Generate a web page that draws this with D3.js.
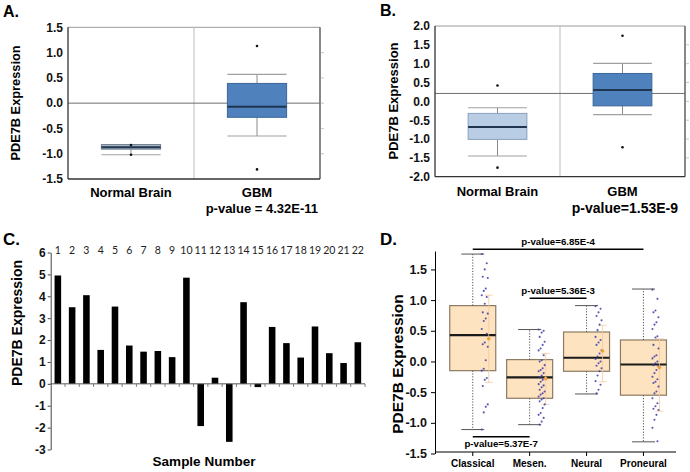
<!DOCTYPE html>
<html>
<head>
<meta charset="utf-8">
<script src="https://cdn.jsdelivr.net/npm/d3@7"></script>
<style>
body { margin: 0; background: #fff; }
text { font-family: "Liberation Sans", Arial, sans-serif; }
.tick text { font-weight: bold; fill: #111; }
</style>
</head>
<body>
<div id="chart"></div>
<script>
// ---- data ----
var groupsAB = ["Normal Brain", "GBM"];
var statsA = [
    {lo: -1.02, q1: -0.91, med: -0.87, q3: -0.82, hi: -0.82},
    {lo: -0.65, q1: -0.28, med: -0.07, q3: 0.39, hi: 0.57}
];
var outliersA = [[-0.83, -1.02], [1.13, -1.31]];
var ticksA = [-1.5, -1.0, -0.5, 0.0, 0.5, 1.0, 1.5];
var refA = 0.0;
var pLabelA = "p-value = 4.32E-11";

var statsB = [
    {lo: -1.45, q1: -1.01, med: -0.68, q3: -0.32, hi: -0.17},
    {lo: -0.35, q1: -0.12, med: 0.30, q3: 0.74, hi: 1.01}
];
var outliersB = [[0.42, -1.76], [1.74, -1.22]];
var ticksB = [-2.0, -1.5, -1.0, -0.5, 0.0, 0.5, 1.0, 1.5, 2.0];
var refB = 0.21;
var pLabelB = "p-value=1.53E-9";

var samplesC = d3.range(1, 23);
var valuesC = [4.95, 3.5, 4.05, 1.55, 3.53, 1.75, 1.47, 1.5, 1.22, 4.85, -1.93,
               0.28, -2.65, 3.73, -0.15, 2.6, 1.86, 1.2, 2.62, 1.4, 0.95, 1.9];
var ticksC = [-3, -2, -1, 0, 1, 2, 3, 4, 5, 6];

var subtypesD = ["Classical", "Mesen.", "Neural", "Proneural"];
var statsD = [
    {lo: -1.11, q1: -0.15, med: 0.43, q3: 0.91, hi: 1.75, mean: 0.37, sdLo: -0.34, sdHi: 1.08},
    {lo: -1.03, q1: -0.60, med: -0.26, q3: 0.03, hi: 0.52, mean: -0.28, sdLo: -0.70, sdHi: 0.13},
    {lo: -0.53, q1: -0.16, med: 0.06, q3: 0.48, hi: 0.91, mean: 0.17, sdLo: -0.33, sdHi: 0.59},
    {lo: -1.31, q1: -0.55, med: -0.05, q3: 0.35, hi: 1.18, mean: -0.10, sdLo: -0.81, sdHi: 0.37}
];
var pointsClassical = [1.75, 1.60, 1.50, 1.38, 1.36, 1.19, 1.15, 1.08, 1.05, 0.94, 0.80, 0.78,
                       0.70, 0.66, 0.53, 0.45, 0.31, 0.28, 0.24, 0.02, -0.12, -0.15, -0.27,
                       -0.30, -0.40, -0.70, -0.74, -0.83, -1.11];
var pointsMesen = [0.52, 0.50, 0.47, 0.40, 0.32, 0.27, 0.21, 0.18, 0.10, 0.02, 0.00, -0.06,
                   -0.11, -0.14, -0.16, -0.19, -0.23, -0.26, -0.27, -0.30, -0.33, -0.37,
                   -0.39, -0.42, -0.46, -0.49, -0.52, -0.54, -0.57, -0.60, -0.62, -0.65,
                   -0.70, -0.76, -0.84, -0.87, -0.92, -0.98, -1.03];
var pointsNeural = [0.90, 0.86, 0.80, 0.74, 0.67, 0.60, 0.51, 0.40, 0.35, 0.31, 0.27, 0.18,
                    0.13, 0.08, 0.04, 0.00, -0.03, -0.07, -0.11, -0.16, -0.23, -0.32, -0.38,
                    -0.46, -0.52];
var pointsProneural = [1.17, 1.02, 0.83, 0.80, 0.72, 0.64, 0.60, 0.53, 0.41, 0.39, 0.27, 0.21,
                       0.10, 0.08, 0.05, 0.00, -0.03, -0.06, -0.08, -0.14, -0.19, -0.25, -0.29,
                       -0.33, -0.35, -0.41, -0.49, -0.52, -0.60, -0.68, -0.73, -0.77, -0.79,
                       -0.87, -0.95, -1.08, -1.30];
var pointsD = [pointsClassical, pointsMesen, pointsNeural, pointsProneural];
var ticksD = [-1.5, -1.0, -0.5, 0.0, 0.5, 1.0, 1.5];
var comparisonsD = [
    ["Classical", "Proneural", "p-value=6.85E-4"],
    ["Mesen.", "Neural", "p-value=5.36E-3"],
    ["Classical", "Mesen.", "p-value=5.37E-7"]
];

var svg = d3.select("#chart")
    .append("svg")
        .attr("width", 690)
        .attr("height", 472);

function fmt1(d) { return d.toFixed(1); }

function panelLetter(txt, x, y, size) {
    svg.append("text")
        .attr("x", x).attr("y", y)
        .style("font-size", size + "px").style("font-weight", "bold")
        .text(txt);
}

function yTitle(x, y, size) {
    svg.append("text")
        .attr("transform", "translate(" + x + "," + y + ") rotate(-90)")
        .attr("text-anchor", "middle")
        .style("font-size", size + "px").style("font-weight", "bold")
        .text("PDE7B Expression");
}

function tickText(sel, size) {
    sel.selectAll(".tick text")
        .style("font-size", size + "px")
        .style("font-weight", "bold")
        .style("font-family", "'Liberation Sans', Arial, sans-serif");
}

// panels A and B share the same layout
function boxPanel(cfg) {
    var x = d3.scaleBand().domain(groupsAB).range(cfg.xr);
    var y = d3.scaleLinear().domain(cfg.yd).range(cfg.yr);
    var g = svg.append("g");
    var bw = x.bandwidth() * 0.47;
    var left = cfg.xr[0], right = cfg.xr[1], top = cfg.yr[1], bot = cfg.yr[0];

    // frame
    g.append("line").attr("x1", left).attr("x2", right).attr("y1", top).attr("y2", top)
        .attr("stroke", "#9a9a9a");
    g.append("line").attr("x1", right).attr("x2", right).attr("y1", top).attr("y2", bot)
        .attr("stroke", "#6a6a6a").attr("stroke-width", 1.6);
    g.append("line").attr("x1", x("GBM")).attr("x2", x("GBM")).attr("y1", top).attr("y2", bot)
        .attr("stroke", "#bdbdbd");
    g.selectAll(".rtick").data(cfg.ticks.slice(1, -1)).enter().append("line")
        .attr("x1", right + 1).attr("x2", right + 4)
        .attr("y1", d => y(d)).attr("y2", d => y(d))
        .attr("stroke", "#c8c8c8");
    g.append("line").attr("x1", left).attr("x2", right).attr("y1", y(cfg.ref)).attr("y2", y(cfg.ref))
        .attr("stroke", "#6f6f6f");

    var boxes = g.selectAll(".box").data(cfg.stats).enter().append("g")
        .attr("transform", (d, i) => "translate(" + (x(groupsAB[i]) + x.bandwidth() / 2) + ",0)");
    boxes.append("line").attr("x1", 0).attr("x2", 0)
        .attr("y1", d => y(d.lo)).attr("y2", d => y(d.hi))
        .attr("stroke", "#8a8a8a");
    boxes.selectAll(".cap").data(d => [d.lo, d.hi]).enter().append("line")
        .attr("x1", -bw / 2).attr("x2", bw / 2)
        .attr("y1", d => y(d)).attr("y2", d => y(d))
        .attr("stroke", "#a0a0a0").attr("stroke-width", 1.2);
    boxes.append("rect")
        .attr("x", -bw / 2).attr("width", bw)
        .attr("y", d => y(d.q3)).attr("height", d => y(d.q1) - y(d.q3))
        .attr("fill", (d, i) => cfg.fill[i]).attr("stroke", (d, i) => cfg.stroke[i]);
    boxes.append("line").attr("x1", -bw / 2).attr("x2", bw / 2)
        .attr("y1", d => y(d.med)).attr("y2", d => y(d.med))
        .attr("stroke", "#1f3550").attr("stroke-width", 2);
    boxes.selectAll(".out").data((d, i) => cfg.outliers[i]).enter().append("circle")
        .attr("cx", 0).attr("cy", d => y(d)).attr("r", 1.3).attr("fill", "#111");

    // axes
    g.append("line").attr("x1", left).attr("x2", left).attr("y1", top).attr("y2", bot)
        .attr("stroke", "#333").attr("stroke-width", 1.3);
    g.append("line").attr("x1", left).attr("x2", right).attr("y1", bot).attr("y2", bot)
        .attr("stroke", "#333").attr("stroke-width", 1.3);
    var ya = g.append("g").attr("transform", "translate(" + left + ",0)")
        .call(d3.axisLeft(y).tickValues(cfg.ticks).tickFormat(fmt1).tickSize(0).tickPadding(5));
    ya.select(".domain").remove();
    tickText(ya, 12);

    g.selectAll(".cat").data(groupsAB).enter().append("text")
        .attr("x", d => x(d) + x.bandwidth() / 2).attr("y", cfg.catY)
        .attr("text-anchor", "middle")
        .style("font-size", "13px").style("font-weight", "bold")
        .text(d => d);
    g.append("text").attr("x", cfg.pX).attr("y", 213)
        .attr("text-anchor", "end")
        .style("font-size", cfg.pSize + "px").style("font-weight", "bold")
        .text(cfg.pLabel);
}

boxPanel({xr: [68, 320], yd: [-1.5, 1.5], yr: [179, 27.3], ticks: ticksA, ref: refA,
    stats: statsA, outliers: outliersA, fill: ["#a9b7c9", "#4f81bd"], stroke: ["#74808f", "#3c6799"],
    catY: 196.5, pX: 318, pSize: 13, pLabel: pLabelA});
boxPanel({xr: [435, 685], yd: [-2, 2], yr: [176.7, 26], ticks: ticksB, ref: refB,
    stats: statsB, outliers: outliersB, fill: ["#b9cde5", "#4f81bd"], stroke: ["#8aa0bd", "#3c6799"],
    catY: 195.5, pX: 678, pSize: 14, pLabel: pLabelB});

panelLetter("A.", 3, 16.5, 16);
panelLetter("B.", 380, 16, 16);
yTitle(20, 103, 12.8);
yTitle(398, 101, 13);

// ---- panel C: bars per sample ----
var xC = d3.scaleBand().domain(samplesC).range([50.7, 365]).paddingInner(0.54).paddingOuter(0.27);
var yC = d3.scaleLinear().domain([-3, 6]).range([449.5, 252.5]);
var gC = svg.append("g");
gC.selectAll(".bar").data(valuesC).enter().append("rect")
    .attr("x", (d, i) => xC(samplesC[i]))
    .attr("width", xC.bandwidth())
    .attr("y", d => yC(Math.max(0, d)))
    .attr("height", d => Math.abs(yC(d) - yC(0)))
    .attr("fill", "#000");
gC.append("line").attr("x1", 50.7).attr("x2", 365).attr("y1", yC(0)).attr("y2", yC(0))
    .attr("stroke", "#555");
gC.selectAll(".xt").data(samplesC).enter().append("line")
    .attr("x1", d => xC(d) - xC.step() * xC.paddingInner() / 2 + xC.step())
    .attr("x2", d => xC(d) - xC.step() * xC.paddingInner() / 2 + xC.step())
    .attr("y1", yC(0)).attr("y2", yC(0) + 3)
    .attr("stroke", "#777");
var yaC = gC.append("g").attr("transform", "translate(50.7,0)")
    .call(d3.axisLeft(yC).tickValues(ticksC).tickFormat(d => d).tickSize(3).tickPadding(2).tickSizeOuter(0));
yaC.select(".domain").attr("stroke", "#444");
yaC.selectAll("line").attr("stroke", "#444");
tickText(yaC, 12);
gC.selectAll(".num").data(samplesC).enter().append("text")
    .attr("x", d => xC(d) + xC.bandwidth() / 2).attr("y", 254)
    .attr("text-anchor", "middle")
    .style("font-size", "10.5px").style("font-family", "Lato, 'Open Sans', sans-serif")
    .attr("fill", "#222")
    .text(d => d);
gC.append("text").attr("x", 204).attr("y", 466)
    .attr("text-anchor", "middle")
    .style("font-size", "13.5px").style("font-weight", "bold")
    .text("Sample Number");
panelLetter("C.", 3, 245, 17);
yTitle(22, 323, 14);

// ---- panel D: subtype box plots with points ----
var xD = d3.scaleBand().domain(subtypesD).range([444.3, 671.9]);
var yD = d3.scaleLinear().domain([-1.5, 1.8]).range([453.5, 251]);
var gD = svg.append("g");
var bwD = 46, capD = 23;
var groupD = gD.selectAll(".sub").data(statsD).enter().append("g")
    .attr("transform", (d, i) => "translate(" + (xD(subtypesD[i]) + xD.bandwidth() / 2) + ",0)");
groupD.append("rect")
    .attr("x", -bwD / 2).attr("width", bwD)
    .attr("y", d => yD(d.q3)).attr("height", d => yD(d.q1) - yD(d.q3))
    .attr("fill", "#fde3bf").attr("stroke", "#8c7a63").attr("stroke-width", 1.2);
groupD.selectAll(".wh").data(d => [[d.q3, d.hi], [d.q1, d.lo]]).enter().append("line")
    .attr("x1", 0).attr("x2", 0)
    .attr("y1", d => yD(d[0])).attr("y2", d => yD(d[1]))
    .attr("stroke", "#555").attr("stroke-dasharray", "1.2,1.6");
groupD.selectAll(".cap").data(d => [d.lo, d.hi]).enter().append("line")
    .attr("x1", -capD / 2).attr("x2", capD / 2)
    .attr("y1", d => yD(d)).attr("y2", d => yD(d))
    .attr("stroke", "#555");
groupD.append("line").attr("x1", -bwD / 2).attr("x2", bwD / 2)
    .attr("y1", d => yD(d.med)).attr("y2", d => yD(d.med))
    .attr("stroke", "#1a1a1a").attr("stroke-width", 2.2);
// mean +/- sd in orange
groupD.append("line").attr("x1", 16).attr("x2", 16)
    .attr("y1", d => yD(d.sdLo)).attr("y2", d => yD(d.sdHi))
    .attr("stroke", "#f6c9a0").attr("stroke-width", 0.8);
groupD.selectAll(".sdcap").data(d => [d.sdLo, d.sdHi]).enter().append("line")
    .attr("x1", 12).attr("x2", 20)
    .attr("y1", d => yD(d)).attr("y2", d => yD(d))
    .attr("stroke", "#f6c9a0").attr("stroke-width", 0.8);
groupD.selectAll(".pt").data((d, i) => pointsD[i]).enter().append("circle")
    .attr("cx", (d, j) => 9 + (j * 5) % 7)
    .attr("cy", d => yD(d)).attr("r", 1.05)
    .attr("fill", "#3b3ba8").attr("opacity", 0.85);
groupD.append("circle").attr("cx", 16).attr("cy", d => yD(d.mean)).attr("r", 1.8)
    .attr("fill", "#f0a23a");

var yaD = gD.append("g").attr("transform", "translate(435,0)")
    .call(d3.axisLeft(yD).tickValues(ticksD).tickFormat(fmt1).tickSize(4).tickPadding(4).tickSizeOuter(0));
tickText(yaD, 12.5);
gD.append("line").attr("x1", 435).attr("x2", 676).attr("y1", 452).attr("y2", 452)
    .attr("stroke", "#000");
gD.selectAll(".xtD").data(subtypesD).enter().append("line")
    .attr("x1", d => xD(d) + xD.bandwidth() / 2).attr("x2", d => xD(d) + xD.bandwidth() / 2)
    .attr("y1", 452).attr("y2", 456).attr("stroke", "#000");
gD.selectAll(".catD").data(subtypesD).enter().append("text")
    .attr("x", d => xD(d) + xD.bandwidth() / 2).attr("y", 467)
    .attr("text-anchor", "middle")
    .style("font-size", "10px").style("font-weight", "bold")
    .text(d => d);

var levelsD = [249.3, 298.3, 436.7];
comparisonsD.forEach(function(c, i) {
    var x1 = xD(c[0]) + xD.bandwidth() / 2, x2 = xD(c[1]) + xD.bandwidth() / 2;
    gD.append("line").attr("x1", x1).attr("x2", x2).attr("y1", levelsD[i]).attr("y2", levelsD[i])
        .attr("stroke", "#000").attr("stroke-width", 1.6);
    gD.append("text").attr("x", (x1 + x2) / 2).attr("y", i == 2 ? levelsD[i] + 10.5 : levelsD[i] - 4)
        .attr("text-anchor", "middle")
        .style("font-size", "9.7px").style("font-weight", "bold")
        .text(c[2]);
});
panelLetter("D.", 380, 245, 17);
yTitle(403, 364, 15.5);
</script>
</body>
</html>
